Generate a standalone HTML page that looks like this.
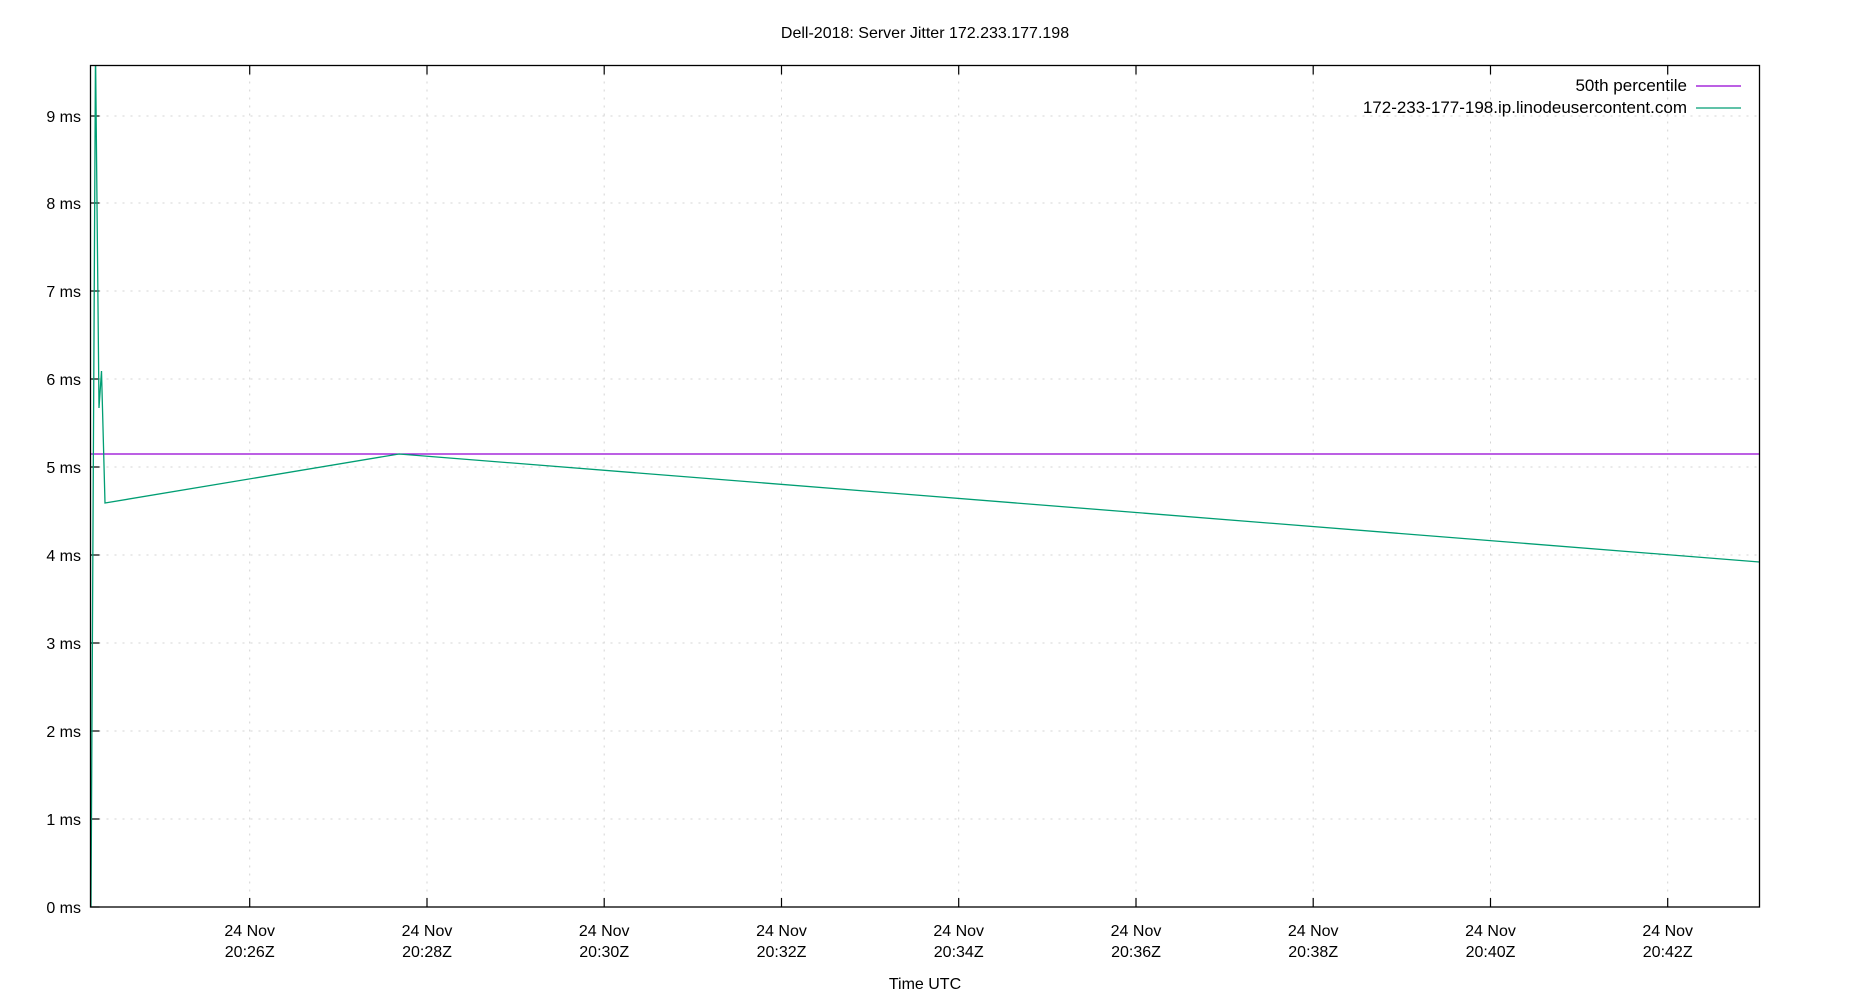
<!DOCTYPE html>
<html><head><meta charset="utf-8"><style>
html,body{margin:0;padding:0;background:#fff;}
svg{display:block;font-family:"Liberation Sans",sans-serif;}
</style></head><body>
<svg width="1850" height="1000" viewBox="0 0 1850 1000" xmlns="http://www.w3.org/2000/svg">
<rect width="1850" height="1000" fill="#fff"/>
<text x="925" y="38" font-size="16" text-anchor="middle" fill="#000">Dell-2018: Server Jitter 172.233.177.198</text>
<g stroke="#d4d4d4" stroke-width="1" stroke-dasharray="2,6">
<line x1="90.5" x2="1759.5" y1="819" y2="819"/>
<line x1="90.5" x2="1759.5" y1="731" y2="731"/>
<line x1="90.5" x2="1759.5" y1="643" y2="643"/>
<line x1="90.5" x2="1759.5" y1="555" y2="555"/>
<line x1="90.5" x2="1759.5" y1="467" y2="467"/>
<line x1="90.5" x2="1759.5" y1="379" y2="379"/>
<line x1="90.5" x2="1759.5" y1="291" y2="291"/>
<line x1="90.5" x2="1759.5" y1="203" y2="203"/>
<line x1="90.5" x2="1759.5" y1="116" y2="116"/>
<line y1="65.5" y2="907" x1="249.7" x2="249.7"/>
<line y1="65.5" y2="907" x1="427" x2="427"/>
<line y1="65.5" y2="907" x1="604.2" x2="604.2"/>
<line y1="65.5" y2="907" x1="781.5" x2="781.5"/>
<line y1="65.5" y2="907" x1="958.7" x2="958.7"/>
<line y1="65.5" y2="907" x1="1136" x2="1136"/>
<line y1="65.5" y2="907" x1="1313.2" x2="1313.2"/>
<line y1="65.5" y2="907" x1="1490.5" x2="1490.5"/>
<line y1="65.5" y2="907" x1="1667.7" x2="1667.7"/>
</g>
<g stroke="#000" stroke-width="1.2">
<line x1="90.5" x2="99.5" y1="907" y2="907"/><line x1="90.5" x2="99.5" y1="819" y2="819"/><line x1="90.5" x2="99.5" y1="731" y2="731"/><line x1="90.5" x2="99.5" y1="643" y2="643"/><line x1="90.5" x2="99.5" y1="555" y2="555"/><line x1="90.5" x2="99.5" y1="467" y2="467"/><line x1="90.5" x2="99.5" y1="379" y2="379"/><line x1="90.5" x2="99.5" y1="291" y2="291"/><line x1="90.5" x2="99.5" y1="203" y2="203"/><line x1="90.5" x2="99.5" y1="116" y2="116"/>
<line x1="249.7" x2="249.7" y1="907" y2="898"/><line x1="427" x2="427" y1="907" y2="898"/><line x1="604.2" x2="604.2" y1="907" y2="898"/><line x1="781.5" x2="781.5" y1="907" y2="898"/><line x1="958.7" x2="958.7" y1="907" y2="898"/><line x1="1136" x2="1136" y1="907" y2="898"/><line x1="1313.2" x2="1313.2" y1="907" y2="898"/><line x1="1490.5" x2="1490.5" y1="907" y2="898"/><line x1="1667.7" x2="1667.7" y1="907" y2="898"/>
<line x1="249.7" x2="249.7" y1="65.5" y2="74.5"/><line x1="427" x2="427" y1="65.5" y2="74.5"/><line x1="604.2" x2="604.2" y1="65.5" y2="74.5"/><line x1="781.5" x2="781.5" y1="65.5" y2="74.5"/><line x1="958.7" x2="958.7" y1="65.5" y2="74.5"/><line x1="1136" x2="1136" y1="65.5" y2="74.5"/><line x1="1313.2" x2="1313.2" y1="65.5" y2="74.5"/><line x1="1490.5" x2="1490.5" y1="65.5" y2="74.5"/><line x1="1667.7" x2="1667.7" y1="65.5" y2="74.5"/>
</g>
<g font-size="16" text-anchor="end" fill="#000">
<text x="81" y="913">0 ms</text><text x="81" y="825">1 ms</text><text x="81" y="737">2 ms</text><text x="81" y="649">3 ms</text><text x="81" y="561">4 ms</text><text x="81" y="473">5 ms</text><text x="81" y="385">6 ms</text><text x="81" y="297">7 ms</text><text x="81" y="209">8 ms</text><text x="81" y="122">9 ms</text>
</g>
<g font-size="16" text-anchor="middle" fill="#000">
<text x="249.7" y="936">24 Nov</text><text x="249.7" y="957">20:26Z</text>
<text x="427" y="936">24 Nov</text><text x="427" y="957">20:28Z</text>
<text x="604.2" y="936">24 Nov</text><text x="604.2" y="957">20:30Z</text>
<text x="781.5" y="936">24 Nov</text><text x="781.5" y="957">20:32Z</text>
<text x="958.7" y="936">24 Nov</text><text x="958.7" y="957">20:34Z</text>
<text x="1136" y="936">24 Nov</text><text x="1136" y="957">20:36Z</text>
<text x="1313.2" y="936">24 Nov</text><text x="1313.2" y="957">20:38Z</text>
<text x="1490.5" y="936">24 Nov</text><text x="1490.5" y="957">20:40Z</text>
<text x="1667.7" y="936">24 Nov</text><text x="1667.7" y="957">20:42Z</text>
<text x="925" y="989">Time UTC</text>
</g>
<defs><clipPath id="c"><rect x="90.5" y="65.5" width="1669" height="841.5"/></clipPath></defs>
<g clip-path="url(#c)" fill="none" stroke-width="1.3">
<line x1="90.5" x2="1759.5" y1="454" y2="454" stroke="#9400d3"/>
<polyline stroke="#009e73" points="91,907 95.5,50 99,408 101.5,371 105,503 399,454 1759.5,562"/>
</g>
<rect x="90.5" y="65.5" width="1669" height="841.5" fill="none" stroke="#000" stroke-width="1.3"/>
<g font-size="17" text-anchor="end" fill="#000">
<text x="1687" y="91">50th percentile</text>
<text x="1687" y="113">172-233-177-198.ip.linodeusercontent.com</text>
</g>
<line x1="1696" x2="1741" y1="86" y2="86" stroke="#9400d3" stroke-width="1.3"/>
<line x1="1696" x2="1741" y1="108" y2="108" stroke="#009e73" stroke-width="1.3"/>
</svg>
</body></html>
